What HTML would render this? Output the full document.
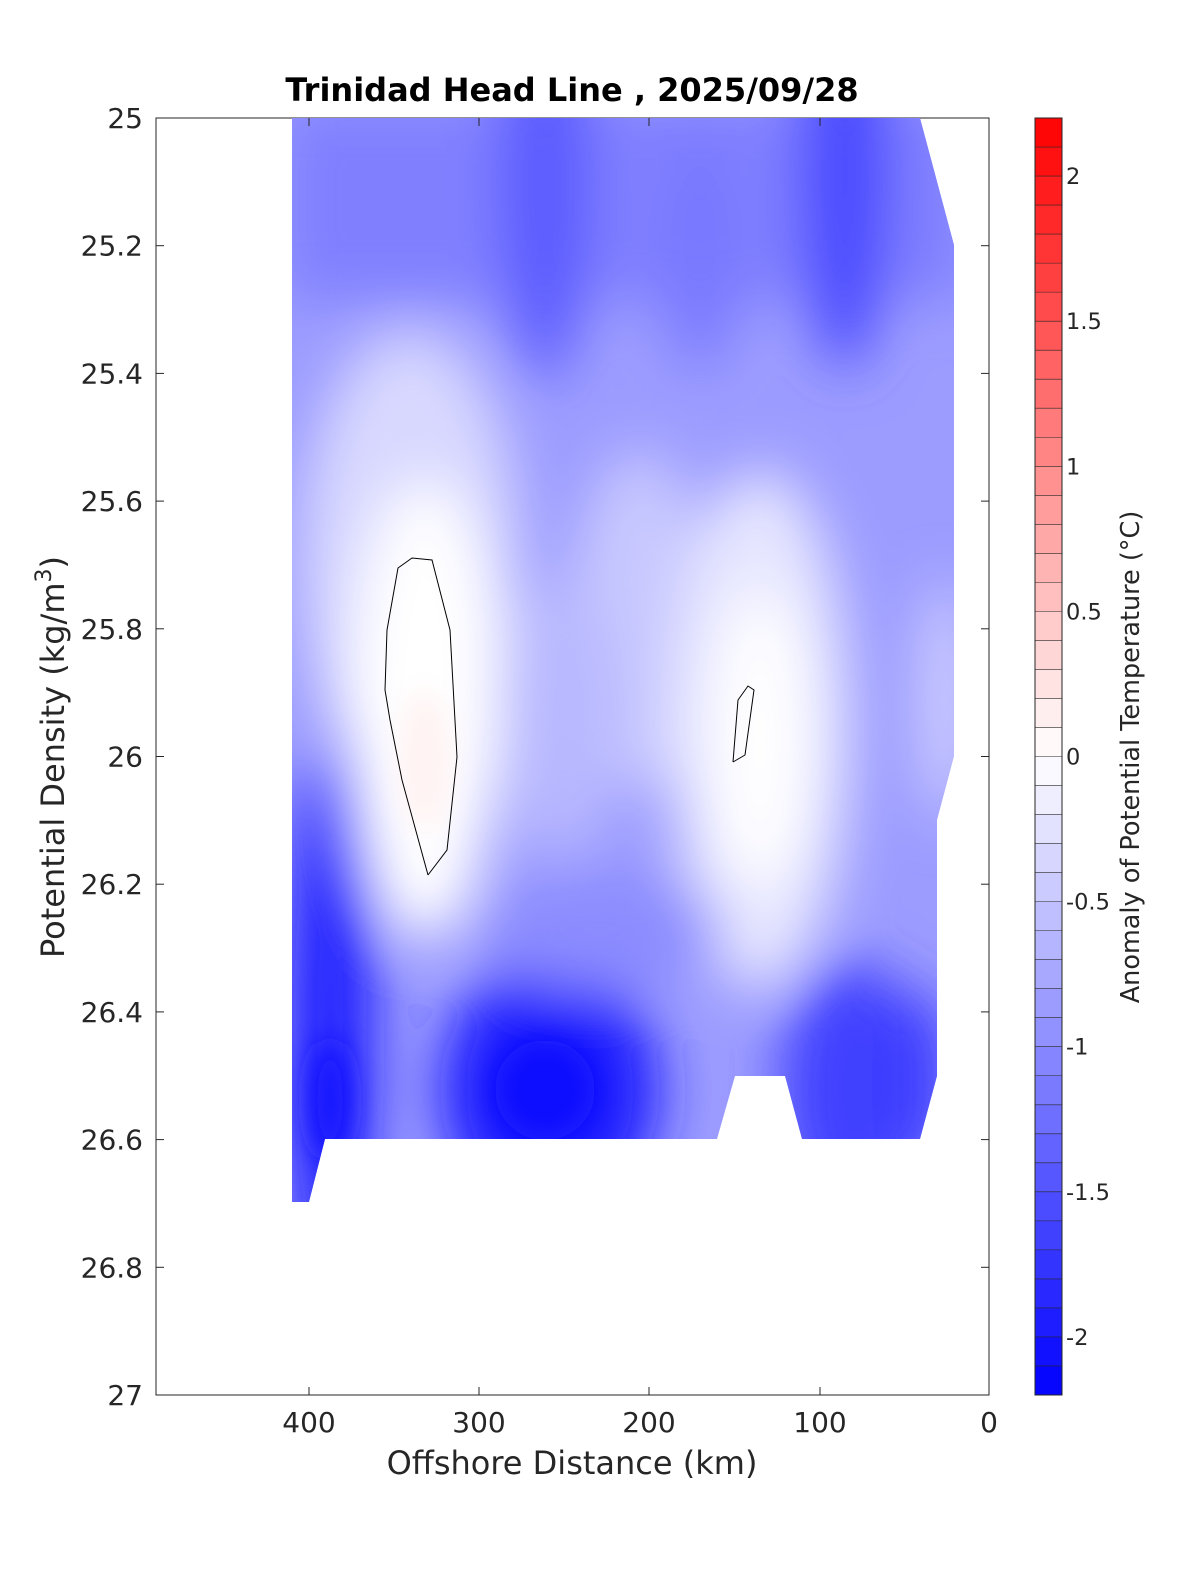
<!DOCTYPE html>
<html><head><meta charset="utf-8"><style>
html,body{margin:0;padding:0;background:#fff;overflow:hidden;width:1200px;height:1575px;}
svg{display:block;position:absolute;left:0;top:0;font-family:"DejaVu Sans","Liberation Sans",sans-serif;}
</style></head><body>
<svg id="s" width="1200" height="1575" viewBox="0 0 1200 1575" xmlns="http://www.w3.org/2000/svg">
<defs>
<clipPath id="cp"><polygon points="292,118 920,118 954,245 954,756 937,820 937,1076 920,1139 802,1139 785,1076 735,1076 717,1139 325,1139 309,1202 292,1202"/></clipPath>
<filter id="bl" x="-50%" y="-50%" width="200%" height="200%"><feGaussianBlur stdDeviation="28"/></filter>
<filter id="bl2" x="-50%" y="-50%" width="200%" height="200%"><feGaussianBlur stdDeviation="14"/></filter>
</defs>
<rect x="156" y="118" width="833" height="1277" fill="#fff" stroke="#262626" stroke-width="1"/>
<g clip-path="url(#cp)">
<rect x="280" y="110" width="690" height="1100" fill="#9c9cff"/>
<g filter="url(#bl)">
<rect x="280" y="100" width="690" height="200" fill="#8080ff"/>
<ellipse cx="545" cy="180" rx="45" ry="200" fill="#5a5aff"/>
<ellipse cx="845" cy="170" rx="45" ry="200" fill="#4848ff"/>
<ellipse cx="700" cy="250" rx="40" ry="120" fill="#7878ff"/>
<ellipse cx="410" cy="560" rx="110" ry="230" fill="#d8d8ff"/>
<ellipse cx="425" cy="710" rx="75" ry="230" fill="#ffffff"/>
<ellipse cx="640" cy="620" rx="70" ry="170" fill="#c8c8ff"/>
<ellipse cx="760" cy="730" rx="90" ry="260" fill="#e6e6ff"/>
<ellipse cx="760" cy="740" rx="50" ry="150" fill="#ffffff"/>
<ellipse cx="560" cy="720" rx="60" ry="140" fill="#b8b8ff"/>
<ellipse cx="945" cy="700" rx="25" ry="120" fill="#d4d4ff"/>
<ellipse cx="330" cy="1030" rx="45" ry="280" fill="#2020ff"/>
<ellipse cx="550" cy="1090" rx="110" ry="130" fill="#1a1aff"/>
<ellipse cx="850" cy="1090" rx="70" ry="130" fill="#4040ff"/>
<ellipse cx="920" cy="1080" rx="30" ry="90" fill="#3a3aff"/>
<ellipse cx="600" cy="930" rx="120" ry="60" fill="#8c8cff"/>
</g>
<g filter="url(#bl2)">
<ellipse cx="425" cy="760" rx="25" ry="70" fill="#fff2f2"/>
<ellipse cx="545" cy="1090" rx="50" ry="50" fill="#1010ff"/>
<ellipse cx="330" cy="1100" rx="22" ry="60" fill="#1818ff"/>
</g>
</g>
<polyline fill="none" stroke="#000" stroke-width="1" points="428,875 447,850 457,757 450,630 432,560 412,558 398,568 387,630 385,690 390,720 402,780 428,875"/>
<polyline fill="none" stroke="#000" stroke-width="1" points="733,762 745,755 754,690 748,686 738,700 733,762"/>
<g id="ticks" stroke="#262626" stroke-width="1"></g>
<g font-size="28" fill="#262626" text-anchor="end" id="ylab"></g>
<g font-size="28" fill="#262626" text-anchor="middle">
<text x="309" y="1432">400</text><text x="479" y="1432">300</text><text x="649" y="1432">200</text><text x="820" y="1432">100</text><text x="989" y="1432">0</text>
</g>
<text x="572" y="1474" font-size="32" fill="#262626" text-anchor="middle">Offshore Distance (km)</text>
<text transform="translate(64,757) rotate(-90)" font-size="32" fill="#262626" text-anchor="middle">Potential Density (kg/m<tspan font-size="22" dy="-13">3</tspan><tspan dy="13">)</tspan></text>
<text x="572" y="101" font-size="32" font-weight="bold" fill="#000" text-anchor="middle">Trinidad Head Line , 2025/09/28</text>
<g id="cb"></g>
<g font-size="22.5" fill="#262626" id="cbl"></g>
<text transform="translate(1139,757) rotate(-90)" font-size="25.5" fill="#262626" text-anchor="middle">Anomaly of Potential Temperature (°C)</text>
</svg>
<script>
var ns="http://www.w3.org/2000/svg",s=function(t,a,p){var e=document.createElementNS(ns,t);for(var k in a)e.setAttribute(k,a[k]);p.appendChild(e);return e;};
var tk=document.getElementById("ticks"),yl=document.getElementById("ylab");
var labs=["25","25.2","25.4","25.6","25.8","26","26.2","26.4","26.6","26.8","27"];
for(var i=0;i<11;i++){var y=118+i*127.7;s("line",{x1:156,x2:164,y1:y,y2:y},tk);s("line",{x1:989,x2:981,y1:y,y2:y},tk);var t=s("text",{x:143,y:y+10},yl);t.textContent=labs[i];}
[309,479,649,820].forEach(function(x){s("line",{x1:x,x2:x,y1:1395,y2:1387},tk);s("line",{x1:x,x2:x,y1:118,y2:126},tk);});
var cb=document.getElementById("cb"),cl=document.getElementById("cbl");
for(var j=0;j<44;j++){var v=2.2-(j+0.5)*0.1,r,g,b;if(v>0){r=255;g=b=Math.round(255*(1-v/2.2));}else{b=255;r=g=Math.round(255*(1+v/2.2));}
var y0=118+j*1277/44;s("rect",{x:1035,y:y0,width:27,height:1277/44+0.5,fill:"rgb("+r+","+g+","+b+")"},cb);
s("line",{x1:1035,x2:1062,y1:y0,y2:y0,stroke:"#262626","stroke-width":0.6},cb);}
s("rect",{x:1035,y:118,width:27,height:1277,fill:"none",stroke:"#262626","stroke-width":1},cb);
[["2",2],["1.5",1.5],["1",1],["0.5",0.5],["0",0],["-0.5",-0.5],["-1",-1],["-1.5",-1.5],["-2",-2]].forEach(function(a){var y=756.5-a[1]*290.2;var t=s("text",{x:1066,y:y+8},cl);t.textContent=a[0];});
</script>
</body></html>
